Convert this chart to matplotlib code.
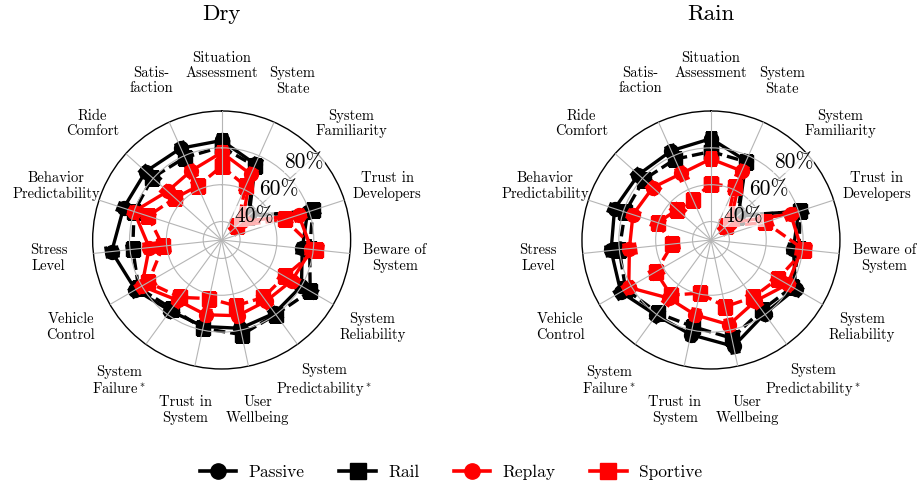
import numpy as np
import matplotlib
matplotlib.use("Agg")
import matplotlib.pyplot as plt
from matplotlib.lines import Line2D

plt.rcParams['font.family'] = 'serif'
plt.rcParams['font.serif'] = ['cmr10']
plt.rcParams['mathtext.fontset'] = 'cm'
plt.rcParams['axes.formatter.use_mathtext'] = True

categories = ["Situation\nAssessment", "System\nState", "System\nFamiliarity",
              "Trust in\nDevelopers", "Beware of\nSystem", "System\nReliability",
              "System\nPredictability$^*$", "User\nWellbeing", "Trust in\nSystem",
              "System\nFailure$^*$", "Vehicle\nControl", "Stress\nLevel",
              "Behavior\nPredictability", "Ride\nComfort", "Satis-\nfaction"]

series_names = ["Passive", "Rail", "Replay", "Sportive"]

passive_dry = [84, 75, 50, 79, 74, 80, 79, 79, 78, 77.5, 84, 90, 86, 85.5, 84.5]
rail_dry = [80.5, 74, 49, 82, 78, 85.5, 80, 82.5, 79, 76, 82, 78.5, 80, 80.5, 79]
replay_dry = [77.5, 69, 45, 74, 79, 74, 71, 72, 71.5, 70.5, 80, 69.5, 80, 69.5, 71]
sportive_dry = [70, 62, 41.5, 66, 81.5, 69.5, 68.5, 66.5, 62.5, 68.5, 76, 62, 72, 64, 62]

passive_rain = [85, 77, 50, 80, 75, 83, 79.5, 89, 82.5, 80.5, 86.5, 84.5, 85, 83, 83]
rail_rain = [78, 76.5, 49, 81, 78, 81, 77, 84.5, 78, 79, 83.5, 80, 79, 79, 78]
replay_rain = [74, 71, 44, 75.5, 79.5, 78, 71, 77, 71.5, 69, 81.5, 74.5, 74.5, 72.5, 69.5]
sportive_rain = [60.5, 61.5, 41, 61, 81, 72, 68.5, 67, 59.5, 67, 64.5, 51, 60.5, 54.5, 54]

err_passive = [3, 3, 4, 3, 3, 3, 3, 3, 3, 3, 3, 3, 3, 3, 3]
err_rail = [3, 3, 4, 3, 3, 3, 3, 3, 3, 3, 3, 3, 3, 3, 3]
err_replay = [3, 3, 4, 3, 3, 3, 3, 3, 3, 3, 3, 3, 3, 3, 3]
err_sportive = [3, 3, 4, 3, 3, 3, 3, 3, 3, 3, 3, 3, 3, 3, 3]

r_ticks = [40, 60, 80]
r_min, r_max = 30, 100

styles = {
    "Passive": dict(color="black", ls="-", marker="o"),
    "Rail": dict(color="black", ls=(0, (3.5, 1.5)), marker="s"),
    "Replay": dict(color="#ff0000", ls="-", marker="o"),
    "Sportive": dict(color="#ff0000", ls=(0, (3.5, 1.5)), marker="s"),
}

fig = plt.figure(figsize=(9.22, 4.86), dpi=100)

n = len(categories)
theta = np.deg2rad(np.arange(n) * 360.0 / n)


def draw(ax, data, errs, title, cx):
    ax.set_theta_zero_location("N")
    ax.set_theta_direction(-1)
    ax.set_ylim(r_min, r_max)
    ax.set_yticks(r_ticks)
    ax.set_yticklabels([])
    ax.set_xticks(theta)
    ax.set_xticklabels([])
    ax.grid(True, color="#b5b5b5", lw=0.8)
    ax.spines["polar"].set_color("black")
    ax.spines["polar"].set_linewidth(1.0)
    ax.set_axisbelow(False)
    th = np.append(theta, theta[0])
    for name, vals, e in zip(series_names, data, errs):
        st = styles[name]
        v = np.append(vals, vals[0])
        ax.errorbar(theta, vals, yerr=e, fmt="none", ecolor=st["color"],
                    elinewidth=2.2, capsize=4, capthick=2.2, zorder=2)
        ax.plot(th, v, color=st["color"], ls=st["ls"], lw=2.4,
                marker=st["marker"], ms=10, zorder=2)
    for t, lab in zip(theta, categories):
        ax.text(t, 124.5, lab, ha="center", va="center", fontsize=10.5,
                linespacing=1.15, clip_on=False)
    for rv in r_ticks:
        ax.text(np.deg2rad(43), rv, f"{rv}%", ha="left", va="bottom",
                fontsize=15.5, zorder=10,
                bbox=dict(facecolor="white", alpha=0.7, edgecolor="none", pad=0.5))
    fig.text(cx / 922, 1 - 20 / 486, title, ha="center", va="baseline", fontsize=16.5)


ax1 = fig.add_axes([0.1005, 0.2407, 0.2798, 0.531], projection="polar")
ax2 = fig.add_axes([0.6312, 0.2407, 0.2798, 0.531], projection="polar")

draw(ax1, [passive_dry, rail_dry, replay_dry, sportive_dry],
     [err_passive, err_rail, err_replay, err_sportive], "Dry", 221.7)
draw(ax2, [passive_rain, rail_rain, replay_rain, sportive_rain],
     [err_passive, err_rail, err_replay, err_sportive], "Rain", 711)

handles = [Line2D([], [], color=styles[s]["color"], lw=2.6, marker=styles[s]["marker"], ms=11)
           for s in series_names]
fig.legend(handles, series_names, loc="center", bbox_to_anchor=(451 / 922, 1 - 472 / 486),
           ncol=4, frameon=False, fontsize=12.5, handlelength=2.1, handletextpad=0.7,
           columnspacing=2.0)

fig.savefig("out.png", dpi=100)
